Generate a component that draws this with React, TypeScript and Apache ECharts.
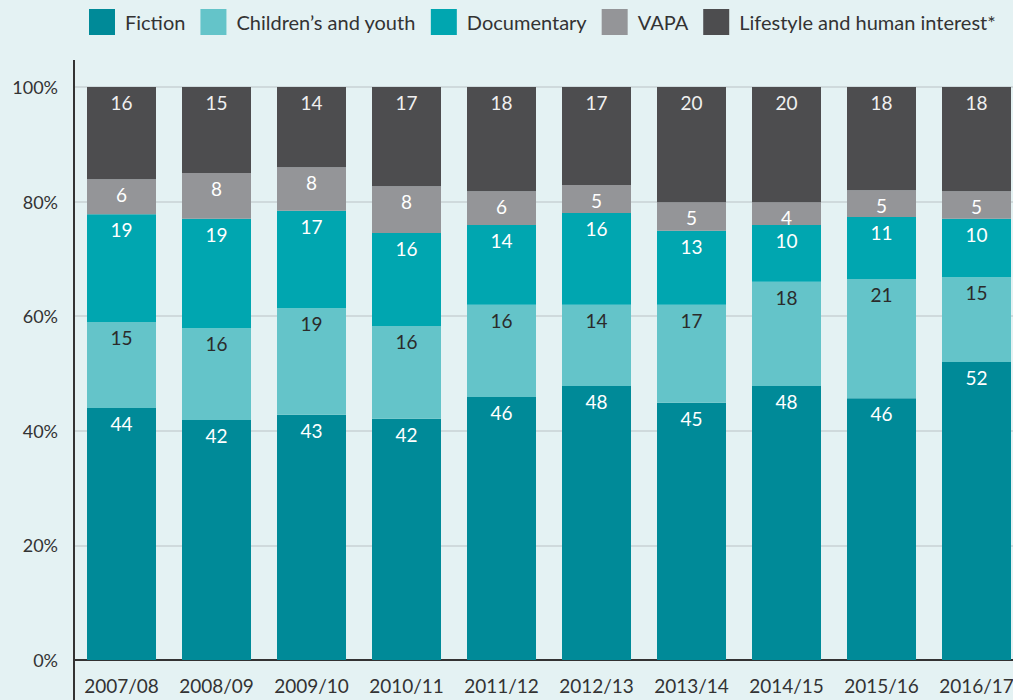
import React, { useEffect, useRef } from "react";
import * as echarts from "echarts";

const categories = ["2007/08", "2008/09", "2009/10", "2010/11", "2011/12", "2012/13", "2013/14", "2014/15", "2015/16", "2016/17"];
const fiction = [44.0, 41.9, 42.8, 42.1, 45.9, 47.8, 44.9, 47.8, 45.7, 52.0];
const childrens = [15.0, 16.0, 18.6, 16.2, 16.1, 14.2, 17.1, 18.2, 20.8, 14.8];
const documentary = [18.8, 19.1, 17.0, 16.2, 13.9, 16.0, 12.9, 9.9, 10.8, 10.2];
const vapa = [6.1, 8.0, 7.6, 8.2, 5.9, 4.9, 5.0, 4.0, 4.7, 4.8];
const lifestyle = [16.1, 15.0, 14.0, 17.3, 18.2, 17.1, 20.1, 20.1, 18.0, 18.2];
const seriesNames = ["Fiction", "Children\u2019s and youth", "Documentary", "VAPA", "Lifestyle and human interest*"];
const yTicks = [0, 20, 40, 60, 80, 100];

const FONT = "Lato";
const WEIGHT = "normal";

export default function App() {
  const ref = useRef<HTMLDivElement>(null);
  useEffect(() => {
    if (!ref.current) return;
    const chart = echarts.init(ref.current, undefined, { renderer: "svg" });
    const colors = ["#008a98", "#64c4c9", "#00a6b0", "#949598", "#4d4d4f"];
    const labelColors = ["#ffffff", "#2b2b2b", "#ffffff", "#ffffff", "#f0f0f0"];
    const datas = [fiction, childrens, documentary, vapa, lifestyle];
    chart.setOption({
      animation: false,
      backgroundColor: "#e4f2f3",
      textStyle: { fontFamily: FONT, fontWeight: WEIGHT },
      legend: {
        left: 89,
        top: 9,
        width: 980,
        padding: 0,
        itemWidth: 26,
        itemHeight: 26,
        itemGap: 15,
        icon: "rect",
        textStyle: { fontSize: 20, color: "#333", fontFamily: FONT, fontWeight: WEIGHT, padding: [0, 0, 0, 5] },
        data: seriesNames,
      },
      grid: { left: 74, right: 0, top: 87, bottom: 40, containLabel: false },
      xAxis: {
        type: "category",
        data: categories,
        axisLine: { show: true, lineStyle: { color: "#333", width: 2 } },
        axisTick: { show: false },
        axisLabel: { color: "#333", fontSize: 19, margin: 16, fontFamily: FONT, fontWeight: WEIGHT, interval: 0 },
      },
      yAxis: {
        type: "value",
        min: 0,
        max: 100,
        interval: 20,
        axisLine: { show: false },
        axisTick: { show: false },
        splitLine: { show: true, lineStyle: { color: "#c9d2d4", width: 1.5 } },
        axisLabel: {
          color: "#333",
          fontSize: 18,
          margin: 16,
          fontFamily: FONT,
          fontWeight: WEIGHT,
          formatter: (v: number) => (yTicks.includes(v) ? v + "%" : ""),
        },
      },
      graphic: [
        {
          type: "line",
          shape: { x1: 74, y1: 60, x2: 74, y2: 700 },
          style: { stroke: "#333", lineWidth: 2 },
          z: 100,
        },
      ],
      series: datas.map((d, i) => ({
        name: seriesNames[i],
        type: "bar",
        stack: "total",
        barWidth: 69,
        data: d,
        itemStyle: { color: colors[i] },
        label: {
          show: true,
          position: "insideTop",
          distance: 6,
          color: labelColors[i],
          fontSize: 19,
          fontFamily: FONT,
          fontWeight: WEIGHT,
          formatter: (p: any) => String(Math.round(p.value)),
        },
      })),
    });
    return () => chart.dispose();
  }, []);
  return (
    <div style={{ position: "fixed", left: 0, top: 0, width: 1013, height: 700, overflow: "hidden" }}>
      <div ref={ref} style={{ width: 1024, height: 700 }} />
    </div>
  );
}
